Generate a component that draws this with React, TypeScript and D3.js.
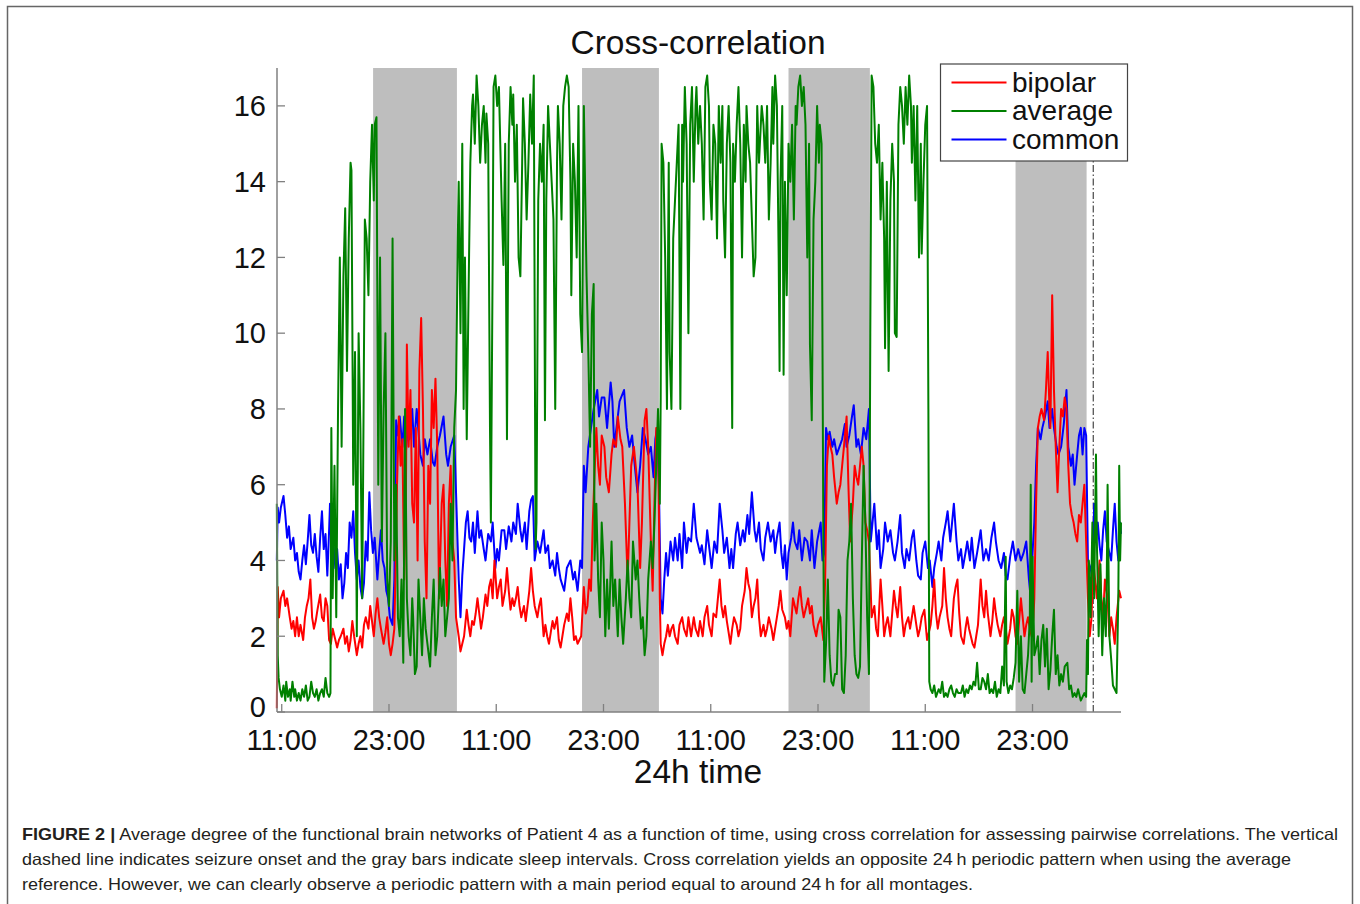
import * as d3 from "d3";

type Pt = [number, number];

// hours counted from the first 11:00 tick
const tickHours = [0, 12, 24, 36, 48, 60, 72, 84];
const tickLabels = ["11:00", "23:00", "11:00", "23:00", "11:00", "23:00", "11:00", "23:00"];
const yTicks = [0, 2, 4, 6, 8, 10, 12, 14, 16];
const sleepIntervals: Pt[] = [
  [10.22, 19.6],
  [33.6, 42.2],
  [56.7, 65.8],
  [82.1, 90.05],
];
const seizureOnset = 90.8;
const seriesNames = ["bipolar", "average", "common"];
const seriesColors = ["#ff0000", "#008000", "#0000ff"];

const bipolar: Pt[] = [
  [-0.55, 0.1], [-0.45, 3.3], [-0.3, 2.5], [-0.1, 3.0], [0.2, 3.2], [0.4, 2.8], [0.6, 3.0], [0.9, 2.5], [1.1, 2.2], [1.3, 2.4],
  [1.5, 2.0], [1.7, 2.5], [1.9, 2.0], [2.1, 2.3], [2.4, 1.9], [2.6, 2.5], [2.8, 2.8], [3.0, 3.0], [3.2, 3.5], [3.4, 2.5],
  [3.6, 2.2], [3.8, 2.4], [4.0, 2.7], [4.3, 3.1], [4.5, 2.5], [4.7, 2.4], [4.9, 3.0], [5.1, 2.8], [5.3, 1.9], [5.5, 1.8],
  [5.7, 2.2], [5.9, 2.0], [6.2, 1.7], [6.4, 1.9], [6.6, 2.0], [6.9, 2.2], [7.1, 1.8], [7.3, 2.0], [7.5, 1.6], [7.7, 1.9],
  [7.9, 2.4], [8.1, 2.0], [8.4, 1.5], [8.6, 1.8], [8.8, 2.0], [9.0, 1.7], [9.2, 2.3], [9.4, 2.5], [9.7, 2.2], [9.9, 2.8],
  [10.1, 2.4], [10.3, 2.0], [10.5, 2.6], [10.7, 3.0], [10.9, 2.5], [11.1, 2.2], [11.4, 1.8], [11.6, 2.1], [11.8, 2.5], [12.0, 1.8],
  [12.2, 1.5], [12.4, 1.8], [12.6, 2.2], [12.8, 4.5], [12.9, 6.0], [13.1, 7.8], [13.3, 6.5], [13.5, 7.2], [13.7, 3.5], [13.9, 6.0],
  [14.0, 9.7], [14.2, 7.0], [14.4, 8.5], [14.6, 5.5], [14.8, 5.0], [15.0, 7.5], [15.2, 4.0], [15.4, 9.0], [15.6, 10.4], [15.8, 8.0],
  [16.0, 4.5], [16.2, 3.0], [16.4, 6.5], [16.6, 5.5], [16.8, 8.5], [17.0, 7.5], [17.2, 8.8], [17.4, 7.0], [17.6, 3.0], [17.9, 5.5],
  [18.1, 6.0], [18.3, 4.0], [18.5, 2.8], [18.7, 5.5], [18.9, 6.5], [19.1, 4.5], [19.3, 4.0], [19.5, 2.5], [19.8, 2.0], [20.0, 1.6],
  [20.2, 1.8], [20.4, 2.0], [20.7, 2.7], [20.9, 2.3], [21.1, 2.0], [21.3, 2.4], [21.5, 2.3], [21.7, 2.6], [21.9, 3.0], [22.1, 2.6],
  [22.3, 2.2], [22.5, 2.5], [22.8, 3.1], [23.0, 2.8], [23.2, 3.3], [23.4, 3.5], [23.6, 3.0], [23.8, 4.0], [24.1, 3.0], [24.3, 3.3],
  [24.5, 3.5], [24.7, 2.8], [25.0, 3.2], [25.2, 3.8], [25.4, 3.2], [25.6, 2.7], [25.8, 3.0], [26.0, 2.8], [26.2, 3.0], [26.4, 3.3],
  [26.6, 2.8], [26.8, 2.5], [27.1, 2.8], [27.3, 2.4], [27.5, 2.8], [27.7, 3.2], [27.9, 3.8], [28.1, 3.2], [28.3, 2.8], [28.6, 2.5],
  [28.8, 2.8], [29.0, 3.0], [29.3, 2.0], [29.5, 2.3], [29.7, 2.0], [29.9, 1.8], [30.1, 2.1], [30.3, 2.4], [30.5, 2.2], [30.8, 2.5],
  [31.0, 1.9], [31.2, 1.7], [31.4, 2.0], [31.6, 2.3], [31.9, 2.6], [32.1, 2.4], [32.3, 3.0], [32.5, 2.5], [32.7, 1.9], [32.9, 2.0],
  [33.1, 1.8], [33.3, 1.9], [33.5, 2.0], [33.8, 3.3], [34.0, 2.6], [34.2, 2.8], [34.4, 3.5], [34.6, 3.2], [34.8, 5.0], [35.0, 6.3],
  [35.2, 7.5], [35.4, 6.5], [35.6, 6.0], [35.8, 7.3], [36.1, 7.0], [36.3, 6.2], [36.6, 5.8], [36.9, 6.8], [37.1, 7.2], [37.4, 7.0],
  [37.6, 7.8], [37.9, 7.2], [38.1, 7.0], [38.4, 5.5], [38.7, 3.5], [38.9, 5.0], [39.1, 6.5], [39.4, 7.0], [39.6, 6.5], [39.8, 6.0],
  [40.1, 3.8], [40.3, 5.0], [40.6, 7.7], [40.8, 8.0], [41.0, 7.0], [41.3, 4.5], [41.5, 3.2], [41.7, 5.5], [41.9, 7.5], [42.1, 7.5],
  [42.3, 3.0], [42.4, 1.8], [42.6, 1.5], [42.8, 1.8], [43.0, 2.0], [43.2, 2.3], [43.4, 2.0], [43.6, 2.2], [43.8, 2.3], [44.0, 2.0],
  [44.3, 1.8], [44.5, 2.3], [44.8, 2.5], [45.0, 2.2], [45.3, 2.0], [45.5, 2.5], [45.8, 2.0], [46.1, 2.5], [46.3, 2.2], [46.6, 2.0],
  [46.8, 2.4], [47.1, 2.0], [47.3, 2.5], [47.6, 2.8], [47.8, 2.3], [48.1, 2.0], [48.3, 2.6], [48.6, 2.5], [48.8, 3.0], [49.0, 3.5],
  [49.2, 2.8], [49.4, 2.5], [49.6, 2.8], [49.8, 2.4], [50.2, 1.8], [50.4, 2.2], [50.6, 2.5], [50.9, 2.3], [51.1, 2.0], [51.3, 2.2],
  [51.5, 2.8], [51.8, 3.2], [52.0, 3.8], [52.2, 3.4], [52.4, 3.2], [52.6, 2.5], [52.8, 2.8], [53.0, 3.0], [53.2, 3.5], [53.4, 2.5],
  [53.6, 2.0], [53.9, 2.3], [54.1, 2.0], [54.3, 2.2], [54.5, 2.5], [54.8, 2.2], [55.0, 1.9], [55.2, 2.2], [55.4, 2.5], [55.6, 2.8],
  [55.8, 3.2], [56.0, 2.7], [56.3, 2.5], [56.5, 2.2], [56.7, 2.4], [56.9, 2.0], [57.2, 3.0], [57.4, 2.8], [57.6, 2.6], [57.8, 3.0],
  [58.0, 3.3], [58.2, 2.8], [58.4, 2.5], [58.7, 2.8], [58.9, 3.0], [59.1, 2.6], [59.3, 2.8], [59.5, 2.3], [59.8, 2.0], [60.0, 2.3],
  [60.3, 2.5], [60.6, 1.9], [60.8, 3.5], [61.0, 6.5], [61.2, 7.3], [61.4, 7.0], [61.6, 6.8], [61.8, 6.2], [62.1, 5.5], [62.3, 5.8],
  [62.5, 6.0], [62.7, 6.5], [62.9, 7.0], [63.2, 7.8], [63.4, 6.0], [63.6, 4.5], [63.9, 5.5], [64.1, 6.5], [64.3, 6.2], [64.5, 6.0],
  [64.7, 6.5], [64.9, 7.0], [65.1, 6.5], [65.3, 5.0], [65.5, 4.8], [65.7, 4.5], [65.9, 3.2], [66.0, 2.5], [66.3, 2.8], [66.5, 2.2],
  [66.7, 2.0], [67.0, 3.5], [67.2, 2.8], [67.4, 2.0], [67.6, 2.3], [67.8, 2.5], [68.1, 2.0], [68.3, 2.6], [68.5, 3.2], [68.7, 2.8],
  [68.9, 2.5], [69.2, 3.3], [69.4, 2.5], [69.6, 2.0], [69.8, 2.3], [70.1, 2.5], [70.3, 2.2], [70.5, 2.5], [70.7, 2.8], [71.0, 2.3],
  [71.2, 2.0], [71.4, 2.2], [71.6, 2.5], [71.9, 2.7], [72.2, 1.9], [72.4, 2.1], [72.6, 2.3], [72.8, 2.8], [73.0, 3.5], [73.2, 2.6],
  [73.4, 2.2], [73.6, 2.5], [73.9, 2.8], [74.1, 3.8], [74.3, 3.0], [74.5, 2.5], [74.7, 2.2], [74.9, 2.0], [75.2, 3.0], [75.4, 3.3],
  [75.6, 3.5], [75.8, 2.6], [76.0, 2.0], [76.3, 1.8], [76.5, 2.2], [76.7, 2.5], [76.9, 2.2], [77.1, 2.0], [77.3, 1.8], [77.5, 1.7],
  [77.7, 2.0], [77.9, 2.3], [78.2, 3.5], [78.4, 2.8], [78.6, 2.5], [78.8, 3.2], [79.0, 2.6], [79.3, 2.0], [79.5, 2.4], [79.7, 3.0],
  [79.9, 2.6], [80.1, 2.3], [80.4, 2.0], [80.6, 2.3], [80.8, 2.5], [81.0, 2.2], [81.2, 1.8], [81.5, 2.2], [81.7, 2.7], [81.9, 2.5],
  [82.1, 2.0], [82.3, 1.8], [82.5, 2.4], [82.7, 3.0], [82.9, 2.5], [83.1, 2.0], [83.3, 2.3], [83.5, 2.5], [83.7, 2.2], [83.9, 2.0],
  [84.1, 2.5], [84.2, 3.0], [84.4, 5.5], [84.6, 7.5], [84.8, 7.8], [85.0, 8.0], [85.3, 7.7], [85.5, 8.5], [85.7, 9.5], [85.9, 8.0],
  [86.0, 7.5], [86.2, 11.0], [86.4, 8.5], [86.6, 7.0], [86.8, 5.8], [87.0, 7.0], [87.2, 8.0], [87.4, 7.8], [87.6, 8.3], [87.8, 8.0],
  [88.0, 6.5], [88.2, 5.5], [88.4, 5.2], [88.6, 5.0], [88.8, 4.7], [89.0, 4.5], [89.2, 5.2], [89.4, 5.0], [89.6, 5.5], [89.8, 6.0],
  [90.0, 4.5], [90.2, 3.0], [90.4, 2.0], [90.6, 2.5], [90.8, 4.0], [91.0, 3.5], [91.2, 3.0], [91.5, 4.0], [91.7, 3.0], [91.9, 2.5],
  [92.1, 3.5], [92.4, 3.0], [92.6, 2.0], [92.8, 2.5], [93.0, 2.2], [93.2, 1.8], [93.4, 2.5], [93.7, 3.2], [93.9, 3.0],
];

const average: Pt[] = [
  [-0.55, 5.5], [-0.45, 1.5], [-0.35, 0.9], [-0.2, 0.6], [0.0, 0.4], [0.2, 0.7], [0.4, 0.3], [0.5, 0.8], [0.7, 0.4], [0.9, 0.6],
  [1.0, 0.3], [1.2, 0.8], [1.4, 0.4], [1.5, 0.6], [1.7, 0.3], [1.9, 0.5], [2.1, 0.3], [2.3, 0.6], [2.5, 0.4], [2.7, 0.7],
  [2.9, 0.3], [3.1, 0.4], [3.3, 0.8], [3.5, 0.5], [3.7, 0.4], [3.9, 0.6], [4.1, 0.3], [4.3, 0.5], [4.5, 0.6], [4.7, 0.4],
  [4.9, 0.9], [5.1, 0.5], [5.3, 0.4], [5.45, 0.5], [5.55, 7.5], [5.7, 3.0], [5.9, 6.5], [6.1, 2.5], [6.3, 8.0], [6.5, 12.0],
  [6.7, 7.0], [6.9, 11.5], [7.1, 13.3], [7.3, 9.0], [7.5, 12.5], [7.7, 14.5], [7.8, 14.3], [8.0, 6.0], [8.2, 9.5], [8.4, 2.0],
  [8.6, 10.0], [8.8, 7.5], [9.0, 3.0], [9.1, 6.0], [9.3, 13.0], [9.5, 12.5], [9.7, 11.0], [9.9, 14.0], [10.1, 15.5], [10.3, 13.5],
  [10.4, 15.5], [10.6, 15.7], [10.8, 6.0], [11.0, 12.0], [11.2, 4.5], [11.4, 8.0], [11.6, 10.0], [11.8, 3.5], [12.0, 2.8], [12.2, 4.5],
  [12.4, 12.5], [12.6, 4.0], [12.8, 6.0], [13.0, 2.5], [13.2, 2.0], [13.4, 3.5], [13.6, 1.3], [13.8, 8.0], [14.0, 3.0], [14.2, 2.0],
  [14.4, 1.5], [14.6, 3.0], [14.7, 2.5], [14.9, 1.0], [15.1, 1.2], [15.3, 3.5], [15.5, 2.5], [15.7, 1.5], [15.9, 3.0], [16.1, 2.2],
  [16.3, 1.8], [16.6, 1.2], [16.8, 2.5], [17.0, 3.5], [17.2, 1.5], [17.4, 2.0], [17.7, 3.8], [17.9, 2.8], [18.1, 3.5], [18.3, 2.0],
  [18.5, 2.5], [18.7, 3.0], [18.9, 5.5], [19.1, 4.0], [19.3, 7.5], [19.5, 8.5], [19.7, 12.5], [19.8, 14.0], [20.0, 10.0], [20.2, 15.0],
  [20.35, 8.0], [20.5, 12.0], [20.7, 7.2], [20.9, 11.0], [21.1, 14.5], [21.3, 16.0], [21.4, 16.3], [21.6, 15.0], [21.8, 16.8], [22.0, 16.0],
  [22.2, 14.5], [22.4, 15.5], [22.6, 16.0], [22.8, 14.5], [22.9, 15.8], [23.1, 15.0], [23.3, 7.5], [23.4, 5.0], [23.6, 12.0], [23.7, 16.5],
  [23.9, 16.8], [24.1, 16.0], [24.3, 16.5], [24.4, 15.5], [24.6, 13.5], [24.8, 11.8], [25.0, 15.0], [25.2, 7.2], [25.4, 15.0], [25.6, 16.5],
  [25.8, 15.5], [25.9, 16.3], [26.1, 14.0], [26.3, 15.5], [26.5, 12.0], [26.7, 11.5], [26.9, 14.5], [27.0, 16.2], [27.2, 15.0], [27.4, 13.0],
  [27.6, 14.5], [27.8, 16.3], [28.0, 15.0], [28.2, 16.8], [28.4, 4.3], [28.5, 5.0], [28.7, 13.5], [28.9, 15.0], [29.1, 14.0], [29.3, 15.5],
  [29.45, 7.7], [29.6, 13.5], [29.8, 16.0], [30.0, 15.0], [30.2, 14.0], [30.4, 13.0], [30.6, 8.0], [30.8, 14.5], [30.9, 16.0], [31.1, 15.0],
  [31.3, 13.0], [31.5, 16.0], [31.7, 16.5], [31.9, 16.8], [32.1, 16.5], [32.3, 14.0], [32.4, 11.0], [32.6, 15.0], [32.8, 14.0], [33.0, 12.0],
  [33.2, 16.0], [33.4, 10.5], [33.6, 9.5], [33.8, 16.0], [34.0, 13.0], [34.1, 11.5], [34.3, 9.5], [34.5, 7.0], [34.7, 10.5], [34.9, 11.3],
  [35.0, 4.0], [35.2, 5.5], [35.4, 3.5], [35.6, 2.5], [35.8, 5.0], [36.0, 4.0], [36.2, 2.0], [36.4, 3.5], [36.6, 2.2], [36.9, 4.5],
  [37.1, 2.8], [37.3, 3.5], [37.6, 2.0], [37.8, 3.5], [38.0, 2.5], [38.2, 1.8], [38.5, 3.0], [38.7, 4.0], [38.9, 3.0], [39.1, 2.5],
  [39.3, 4.5], [39.6, 3.5], [39.8, 4.0], [40.0, 3.0], [40.2, 2.2], [40.4, 2.5], [40.6, 1.5], [40.8, 2.0], [41.0, 3.5], [41.3, 4.5],
  [41.5, 3.8], [41.7, 5.0], [41.9, 6.5], [42.1, 8.0], [42.3, 5.5], [42.4, 8.3], [42.5, 15.0], [42.7, 14.5], [42.9, 12.0], [43.1, 8.0],
  [43.3, 14.5], [43.4, 9.5], [43.6, 8.0], [43.8, 12.5], [44.0, 13.5], [44.2, 14.5], [44.4, 15.5], [44.6, 8.0], [44.8, 15.5], [44.9, 14.0],
  [45.1, 16.5], [45.3, 15.0], [45.5, 10.0], [45.7, 15.5], [45.9, 16.5], [46.1, 14.0], [46.3, 16.0], [46.4, 16.5], [46.6, 15.0], [46.8, 16.0],
  [47.0, 15.0], [47.2, 13.0], [47.4, 16.5], [47.6, 16.8], [47.8, 16.0], [47.9, 14.0], [48.1, 13.0], [48.3, 15.5], [48.5, 15.0], [48.7, 12.5],
  [48.9, 16.0], [49.1, 14.5], [49.3, 16.0], [49.4, 13.5], [49.6, 12.0], [49.8, 15.0], [50.0, 16.0], [50.2, 14.5], [50.4, 7.5], [50.5, 15.0],
  [50.7, 14.0], [50.9, 15.5], [51.1, 16.5], [51.3, 15.0], [51.5, 12.0], [51.7, 15.5], [51.9, 14.0], [52.0, 16.0], [52.2, 15.0], [52.4, 14.5],
  [52.6, 13.0], [52.8, 11.5], [53.0, 12.0], [53.2, 16.0], [53.4, 14.5], [53.5, 15.0], [53.7, 16.0], [53.9, 15.5], [54.1, 14.5], [54.3, 16.0],
  [54.5, 13.0], [54.7, 14.5], [54.9, 16.5], [55.0, 15.0], [55.2, 16.8], [55.4, 16.0], [55.6, 12.0], [55.7, 9.0], [55.8, 14.0], [56.0, 16.0],
  [56.15, 8.9], [56.3, 14.0], [56.5, 11.0], [56.7, 15.0], [56.9, 14.0], [57.1, 15.5], [57.3, 13.0], [57.5, 16.0], [57.6, 15.5], [57.8, 16.5],
  [58.0, 16.8], [58.2, 16.0], [58.4, 16.5], [58.6, 15.5], [58.8, 12.0], [59.0, 15.0], [59.1, 9.7], [59.3, 7.7], [59.5, 13.0], [59.7, 14.0],
  [59.9, 16.0], [60.1, 14.5], [60.2, 15.5], [60.4, 15.0], [60.6, 4.5], [60.7, 0.8], [60.9, 1.8], [61.1, 3.5], [61.3, 1.5], [61.5, 0.8],
  [61.7, 0.7], [61.9, 1.0], [62.1, 1.0], [62.3, 2.7], [62.5, 2.5], [62.7, 0.6], [62.9, 0.5], [63.1, 1.5], [63.3, 4.0], [63.5, 4.5],
  [63.7, 5.5], [63.9, 3.0], [64.1, 1.5], [64.3, 1.0], [64.5, 0.9], [64.7, 1.2], [64.9, 4.0], [65.1, 6.5], [65.3, 5.0], [65.5, 2.5],
  [65.7, 1.0], [65.85, 10.0], [66.0, 16.8], [66.2, 16.5], [66.4, 15.0], [66.6, 14.5], [66.8, 15.5], [67.0, 13.0], [67.2, 14.5], [67.4, 12.5],
  [67.5, 9.6], [67.7, 14.0], [67.9, 9.0], [68.1, 13.5], [68.3, 15.0], [68.5, 14.0], [68.6, 10.0], [68.8, 9.9], [69.0, 15.5], [69.2, 16.5],
  [69.4, 16.0], [69.6, 15.0], [69.8, 16.5], [70.0, 15.5], [70.2, 16.8], [70.4, 16.0], [70.5, 14.5], [70.7, 16.0], [70.9, 13.5], [71.1, 16.0],
  [71.3, 12.0], [71.5, 15.0], [71.6, 12.1], [71.8, 14.0], [72.0, 15.5], [72.2, 16.0], [72.35, 8.0], [72.45, 0.8], [72.6, 0.6], [72.8, 0.5],
  [73.0, 0.7], [73.2, 0.4], [73.5, 0.6], [73.7, 0.5], [73.9, 0.8], [74.1, 0.4], [74.3, 0.5], [74.5, 0.4], [74.7, 0.6], [74.9, 0.7],
  [75.1, 0.5], [75.3, 0.4], [75.5, 0.6], [75.7, 0.5], [76.0, 0.5], [76.2, 0.7], [76.4, 0.4], [76.6, 0.6], [76.8, 0.5], [77.0, 0.7],
  [77.2, 0.6], [77.4, 0.8], [77.6, 0.7], [77.8, 1.3], [78.0, 0.6], [78.2, 0.6], [78.4, 0.9], [78.6, 0.8], [78.8, 0.6], [79.0, 1.0],
  [79.2, 0.5], [79.4, 0.6], [79.6, 0.5], [79.8, 0.8], [80.0, 0.4], [80.2, 0.6], [80.4, 0.5], [80.6, 1.2], [80.8, 0.7], [81.0, 4.1],
  [81.1, 0.8], [81.3, 0.5], [81.5, 0.7], [81.7, 0.6], [81.9, 0.9], [82.1, 1.3], [82.3, 3.2], [82.5, 0.8], [82.7, 2.0], [82.9, 0.6],
  [83.1, 0.5], [83.3, 1.0], [83.5, 1.5], [83.7, 2.5], [83.8, 6.0], [83.9, 0.8], [84.0, 4.1], [84.2, 1.5], [84.4, 1.7], [84.6, 2.0],
  [84.8, 1.0], [85.0, 1.9], [85.2, 2.3], [85.4, 1.2], [85.6, 2.2], [85.8, 0.6], [86.0, 1.1], [86.2, 2.0], [86.4, 2.7], [86.6, 1.0],
  [86.8, 1.5], [87.0, 0.7], [87.2, 1.0], [87.4, 0.8], [87.6, 1.2], [87.9, 1.3], [88.1, 0.6], [88.3, 0.7], [88.5, 0.4], [88.7, 0.5],
  [88.9, 0.4], [89.1, 0.6], [89.4, 0.3], [89.6, 0.4], [89.8, 0.5], [90.0, 0.4], [90.1, 1.9], [90.2, 1.0], [90.3, 4.0], [90.5, 2.5],
  [90.7, 5.0], [90.9, 3.0], [91.1, 6.8], [91.2, 4.5], [91.4, 2.0], [91.6, 3.9], [91.8, 1.5], [92.0, 3.0], [92.2, 2.0], [92.3, 3.3],
  [92.4, 6.0], [92.6, 2.0], [92.8, 1.4], [93.0, 0.7], [93.2, 0.6], [93.4, 0.5], [93.6, 3.0], [93.7, 6.5], [93.8, 4.0], [93.9, 5.0],
];

const common: Pt[] = [
  [-0.55, 4.0], [-0.45, 5.4], [-0.3, 5.0], [-0.1, 5.4], [0.2, 5.7], [0.4, 5.2], [0.6, 4.6], [0.8, 4.9], [1.0, 4.3], [1.3, 4.6],
  [1.5, 4.0], [1.7, 4.2], [1.9, 3.7], [2.1, 3.5], [2.3, 4.0], [2.5, 4.4], [2.7, 3.9], [2.9, 4.5], [3.1, 5.2], [3.3, 4.4],
  [3.5, 4.2], [3.7, 4.7], [3.9, 4.1], [4.1, 3.7], [4.3, 4.6], [4.5, 5.3], [4.7, 4.3], [4.9, 4.7], [5.1, 3.6], [5.3, 4.8],
  [5.4, 5.5], [5.6, 4.0], [5.8, 4.4], [6.0, 3.8], [6.2, 4.3], [6.4, 3.5], [6.6, 3.9], [6.8, 3.0], [7.0, 3.4], [7.2, 4.2],
  [7.4, 3.8], [7.6, 5.0], [7.8, 4.6], [8.0, 5.3], [8.2, 4.2], [8.4, 3.5], [8.6, 4.0], [8.8, 3.3], [9.0, 3.0], [9.2, 3.4],
  [9.4, 4.5], [9.6, 4.0], [9.8, 5.8], [10.0, 4.8], [10.2, 4.2], [10.4, 4.6], [10.7, 3.5], [10.9, 4.2], [11.1, 4.8], [11.3, 4.0],
  [11.5, 3.8], [11.7, 3.2], [11.9, 3.0], [12.1, 2.5], [12.4, 2.3], [12.6, 3.5], [12.8, 7.7], [13.0, 7.3], [13.2, 7.8], [13.5, 7.0],
  [13.7, 7.8], [13.9, 6.9], [14.1, 7.5], [14.3, 7.2], [14.6, 8.0], [14.8, 7.0], [15.1, 8.0], [15.3, 7.4], [15.5, 6.8], [15.8, 6.5],
  [16.0, 7.2], [16.3, 6.8], [16.6, 7.2], [16.9, 6.6], [17.1, 6.5], [17.4, 7.0], [17.7, 7.3], [18.1, 7.8], [18.4, 6.8], [18.6, 6.5],
  [18.9, 7.0], [19.3, 7.3], [19.5, 5.8], [19.8, 3.5], [20.0, 2.5], [20.2, 3.6], [20.4, 4.3], [20.6, 5.0], [20.8, 5.3], [21.0, 4.6],
  [21.2, 4.5], [21.4, 5.0], [21.6, 4.2], [21.9, 5.3], [22.1, 4.6], [22.3, 4.8], [22.6, 4.3], [22.8, 4.0], [23.1, 4.7], [23.4, 4.5],
  [23.6, 5.0], [23.9, 3.8], [24.1, 4.3], [24.3, 4.0], [24.6, 4.8], [24.9, 4.8], [25.1, 4.3], [25.4, 4.9], [25.7, 4.5], [25.9, 5.0],
  [26.2, 4.7], [26.4, 5.5], [26.7, 4.8], [26.9, 4.5], [27.2, 5.0], [27.4, 4.3], [27.7, 5.3], [27.9, 5.6], [28.1, 5.7], [28.3, 4.0],
  [28.6, 4.5], [28.9, 4.2], [29.3, 4.8], [29.5, 4.2], [29.8, 4.4], [30.0, 3.8], [30.3, 4.0], [30.6, 3.6], [30.8, 4.2], [31.0, 3.8],
  [31.2, 3.5], [31.6, 3.2], [31.9, 3.8], [32.3, 4.0], [32.6, 3.5], [32.8, 3.7], [33.1, 3.2], [33.4, 4.0], [33.6, 3.8], [33.8, 6.5],
  [34.0, 5.8], [34.3, 7.0], [34.6, 7.5], [34.9, 8.0], [35.3, 8.5], [35.5, 7.8], [35.8, 8.3], [36.1, 8.3], [36.4, 7.5], [36.8, 8.7],
  [37.0, 8.2], [37.2, 7.0], [37.5, 7.6], [37.8, 8.2], [38.3, 8.5], [38.6, 7.5], [38.9, 7.0], [39.2, 7.3], [39.5, 6.5], [39.8, 5.8],
  [40.1, 6.5], [40.4, 7.5], [40.7, 7.2], [41.0, 6.8], [41.3, 7.0], [41.6, 6.2], [41.8, 7.2], [42.0, 7.5], [42.2, 6.0], [42.4, 3.0],
  [42.6, 2.6], [42.8, 3.5], [43.0, 4.2], [43.2, 3.6], [43.5, 4.5], [43.8, 4.0], [44.0, 4.6], [44.3, 4.0], [44.5, 4.7], [44.8, 3.8],
  [45.0, 5.0], [45.3, 4.2], [45.5, 4.6], [45.8, 4.5], [46.1, 5.5], [46.4, 4.6], [46.8, 4.2], [47.0, 4.4], [47.3, 3.9], [47.6, 4.8],
  [47.9, 4.2], [48.1, 3.8], [48.4, 4.5], [48.7, 4.2], [49.0, 5.5], [49.3, 4.8], [49.5, 4.2], [49.8, 4.6], [50.1, 3.8], [50.3, 4.3],
  [50.5, 3.8], [50.8, 4.7], [51.0, 5.0], [51.3, 4.4], [51.6, 4.8], [51.8, 4.5], [52.1, 5.2], [52.3, 4.7], [52.6, 5.8], [52.9, 4.8],
  [53.1, 4.5], [53.4, 5.0], [53.6, 4.3], [53.9, 4.0], [54.1, 4.6], [54.4, 5.0], [54.7, 4.5], [55.0, 4.8], [55.2, 4.2], [55.4, 4.6],
  [55.7, 5.0], [55.9, 4.2], [56.1, 3.8], [56.3, 4.4], [56.5, 3.5], [56.7, 4.2], [57.0, 4.6], [57.2, 5.0], [57.4, 4.5], [57.7, 4.3],
  [57.9, 4.8], [58.2, 4.0], [58.5, 4.6], [58.8, 4.5], [59.1, 4.0], [59.3, 4.8], [59.6, 3.8], [59.9, 4.5], [60.3, 5.0], [60.5, 4.0],
  [60.7, 4.2], [60.9, 7.5], [61.1, 7.2], [61.3, 7.4], [61.6, 7.0], [61.8, 7.2], [62.1, 6.8], [62.4, 7.0], [62.7, 7.2], [63.0, 7.6],
  [63.2, 7.0], [63.5, 7.3], [63.8, 7.8], [64.0, 8.1], [64.3, 7.0], [64.5, 7.2], [64.8, 6.8], [65.1, 7.5], [65.4, 7.2], [65.7, 8.0],
  [65.9, 4.5], [66.1, 5.0], [66.3, 5.5], [66.6, 4.3], [66.8, 4.8], [67.0, 3.8], [67.3, 4.3], [67.5, 5.0], [67.8, 4.5], [68.1, 4.8],
  [68.4, 4.2], [68.6, 4.0], [68.9, 4.5], [69.2, 5.2], [69.4, 4.2], [69.7, 3.8], [69.9, 4.3], [70.2, 4.0], [70.5, 4.6], [70.7, 4.8],
  [71.0, 4.0], [71.2, 3.6], [71.5, 3.5], [71.7, 4.2], [72.0, 4.5], [72.3, 3.8], [72.5, 4.0], [72.8, 3.3], [73.0, 3.8], [73.3, 4.2],
  [73.5, 4.5], [73.8, 4.0], [74.0, 4.6], [74.3, 5.0], [74.5, 5.3], [74.8, 4.5], [75.0, 5.0], [75.2, 5.5], [75.5, 4.5], [75.7, 4.0],
  [76.0, 4.3], [76.2, 3.8], [76.5, 4.2], [76.7, 4.5], [77.0, 4.0], [77.2, 4.6], [77.5, 3.8], [77.8, 4.2], [78.0, 4.5], [78.2, 4.8],
  [78.5, 4.0], [78.8, 4.3], [79.1, 4.0], [79.4, 4.6], [79.7, 5.0], [79.9, 4.5], [80.2, 4.0], [80.5, 3.8], [80.8, 4.2], [81.0, 3.6],
  [81.2, 3.5], [81.5, 4.1], [81.8, 4.5], [82.1, 4.0], [82.4, 4.3], [82.7, 4.0], [83.0, 4.2], [83.3, 4.5], [83.6, 3.5], [83.8, 3.0],
  [84.0, 4.2], [84.2, 5.0], [84.4, 6.5], [84.6, 7.5], [84.9, 7.2], [85.1, 7.5], [85.4, 7.8], [85.7, 8.2], [85.9, 7.5], [86.2, 8.0],
  [86.4, 7.5], [86.7, 7.0], [86.9, 6.8], [87.2, 7.0], [87.5, 7.6], [87.8, 8.5], [88.0, 7.0], [88.3, 6.5], [88.5, 6.8], [88.7, 6.0],
  [89.0, 6.8], [89.2, 7.3], [89.4, 7.5], [89.6, 6.8], [89.8, 7.5], [90.0, 7.3], [90.2, 4.0], [90.5, 3.8], [90.7, 3.5], [90.9, 5.5],
  [91.1, 4.5], [91.3, 5.0], [91.5, 4.4], [91.7, 4.0], [91.9, 4.8], [92.1, 5.3], [92.3, 4.5], [92.6, 4.2], [92.8, 4.0], [93.0, 4.8],
  [93.2, 5.5], [93.4, 4.5], [93.6, 4.0], [93.8, 5.0], [93.9, 4.7],
];

const seriesData = [bipolar, average, common];
const drawOrder = [2, 0, 1]; // common below, bipolar, average on top

const captionLines = [
  "Average degree of the functional brain networks of Patient 4 as a function of time, using cross correlation for assessing pairwise correlations. The vertical",
  "dashed line indicates seizure onset and the gray bars indicate sleep intervals. Cross correlation yields an opposite 24\u2009h periodic pattern when using the average",
  "reference. However, we can clearly observe a periodic pattern with a main period equal to around 24\u2009h for all montages.",
];

const W = 1360;
const H = 904;
const font = "'Liberation Sans', Arial, Helvetica, sans-serif";

export default function App() {
  const x = d3.scaleLinear().domain([-0.53, 93.9]).range([277, 1121]);
  const y = d3.scaleLinear().domain([0, 17]).range([712, 68]);
  const line = d3
    .line<Pt>()
    .x((d) => x(d[0]))
    .y((d) => y(d[1]));

  const [x0, x1] = x.range();
  const [y0, y1] = y.range();
  const axisColor = "#808080";
  const tickFont = 29;

  return (
    <div style={{ position: "absolute", left: 0, top: 0 }}>
      <svg width={W} height={H} style={{ display: "block", background: "#fff" }} fontFamily={font}>
        {/* figure frame */}
        <rect x={7.5} y={6.5} width={1345} height={1000} fill="none" stroke="#666" strokeWidth={1.5} />

        <text x={698} y={54} textAnchor="middle" fontSize={33.5} fill="#111">
          Cross-correlation
        </text>

        {/* sleep intervals */}
        {sleepIntervals.map(([a, b], i) => (
          <rect key={i} x={x(a)} y={y(17)} width={x(b) - x(a)} height={y(0) - y(17)} fill="#bebebe" />
        ))}

        {/* seizure onset */}
        <line
          x1={x(seizureOnset)}
          x2={x(seizureOnset)}
          y1={y(0)}
          y2={y(17)}
          stroke="#555"
          strokeWidth={1.3}
          strokeDasharray="7 2.5 1.5 2.5"
        />

        {drawOrder.map((k) => (
          <path
            key={seriesNames[k]}
            d={line(seriesData[k]) ?? ""}
            fill="none"
            stroke={seriesColors[k]}
            strokeWidth={2}
            strokeLinejoin="round"
          />
        ))}

        {/* axes */}
        <line x1={x0} x2={x0} y1={y0} y2={y1} stroke={axisColor} strokeWidth={1.5} />
        <line x1={x0} x2={x1} y1={y0} y2={y0} stroke={axisColor} strokeWidth={1.5} />
        {yTicks.map((v) => (
          <g key={v}>
            <line x1={x0} x2={x0 + 8} y1={y(v)} y2={y(v)} stroke={axisColor} strokeWidth={1.3} />
            <text
              x={266}
              y={y(v) + (v === 0 ? 4.5 : 10.3)}
              textAnchor="end"
              fontSize={tickFont}
              fill="#111"
            >
              {v}
            </text>
          </g>
        ))}
        {tickHours.map((h, i) => (
          <g key={h}>
            <line x1={x(h)} x2={x(h)} y1={y0} y2={y0 - 8} stroke={axisColor} strokeWidth={1.3} />
            <text x={x(h)} y={750} textAnchor="middle" fontSize={tickFont} fill="#111">
              {tickLabels[i]}
            </text>
          </g>
        ))}
        <text x={698} y={783} textAnchor="middle" fontSize={33.5} fill="#111">
          24h time
        </text>

        {/* legend */}
        <rect x={940.5} y={64} width={187} height={97} fill="#fff" stroke="#444" strokeWidth={1.2} />
        {seriesNames.map((name, i) => (
          <g key={name}>
            <line
              x1={951.5}
              x2={1006.5}
              y1={82.5 + i * 28.5}
              y2={82.5 + i * 28.5}
              stroke={seriesColors[i]}
              strokeWidth={2}
            />
            <text x={1012} y={91.5 + i * 28.5} fontSize={28} fill="#111">
              {name}
            </text>
          </g>
        ))}

        {/* caption */}
        <g fill="#231f20" fontSize={16.5}>
          <text x={22} y={840} textLength={1316} lengthAdjust="spacingAndGlyphs">
            <tspan fontWeight="bold">FIGURE 2 |</tspan> {captionLines[0]}
          </text>
          <text x={22} y={865} textLength={1269} lengthAdjust="spacingAndGlyphs">
            {captionLines[1]}
          </text>
          <text x={22} y={890} textLength={951} lengthAdjust="spacingAndGlyphs">
            {captionLines[2]}
          </text>
        </g>
      </svg>
    </div>
  );
}
